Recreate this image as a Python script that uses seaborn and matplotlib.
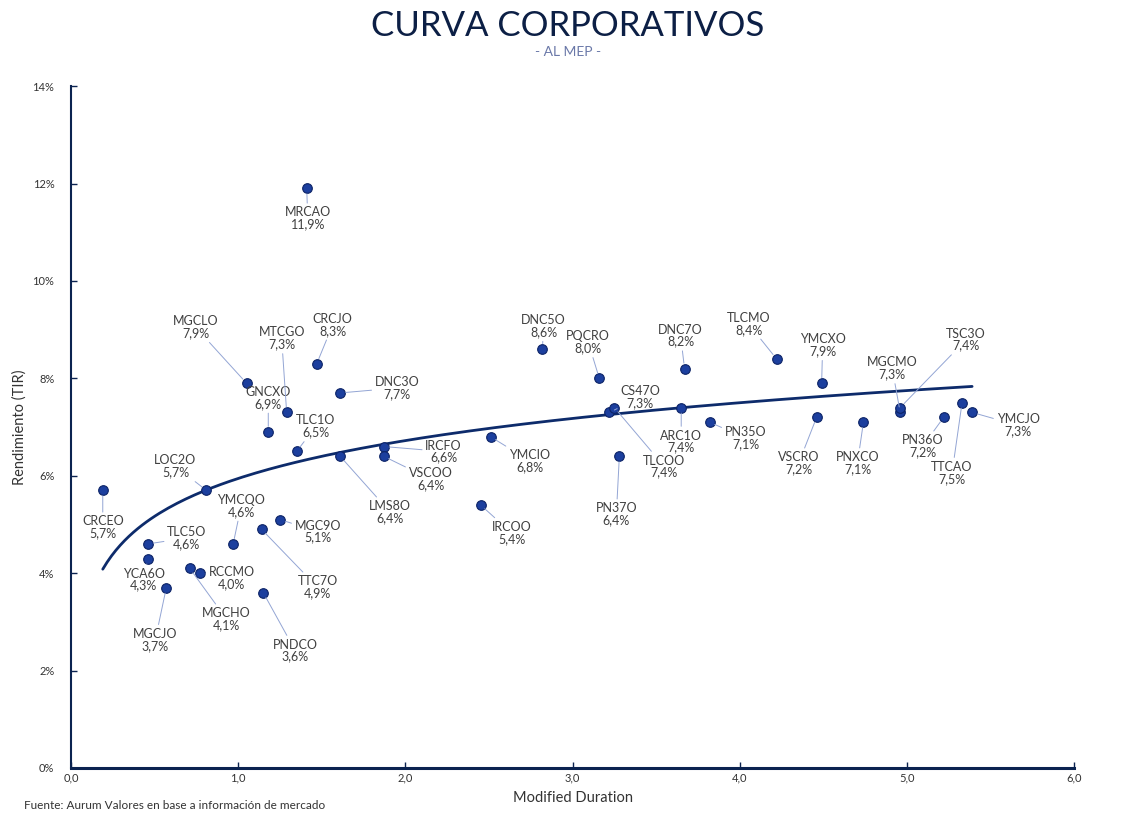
import numpy as np
import pandas as pd
import matplotlib
matplotlib.use("Agg")
import matplotlib.pyplot as plt
import seaborn as sns

# Data
tickers = ["MRCAO", "CRCEO", "LOC2O", "TLC5O", "YCA6O", "MGCJO", "MGCHO", "RCCMO",
           "YMCQO", "TTC7O", "MGC9O", "PNDCO", "MGCLO", "GNCXO", "MTCGO", "CRCJO",
           "TLC1O", "DNC3O", "LMS8O", "IRCFO", "VSCOO", "YMCIO", "IRCOO", "DNC5O",
           "PQCRO", "CS47O", "TLCOO", "PN37O", "ARC1O", "DNC7O", "PN35O", "TLCMO",
           "YMCXO", "VSCRO", "PNXCO", "MGCMO", "TSC3O", "PN36O", "TTCAO", "YMCJO"]
duration = [1.41, 0.19, 0.81, 0.46, 0.46, 0.57, 0.71, 0.77,
            0.97, 1.14, 1.25, 1.15, 1.05, 1.18, 1.29, 1.47,
            1.35, 1.61, 1.61, 1.87, 1.87, 2.51, 2.45, 2.82,
            3.16, 3.22, 3.25, 3.28, 3.65, 3.67, 3.82, 4.22,
            4.49, 4.46, 4.74, 4.96, 4.96, 5.22, 5.33, 5.39]
tir = [11.9, 5.7, 5.7, 4.6, 4.3, 3.7, 4.1, 4.0,
       4.6, 4.9, 5.1, 3.6, 7.9, 6.9, 7.3, 8.3,
       6.5, 7.7, 6.4, 6.6, 6.4, 6.8, 5.4, 8.6,
       8.0, 7.3, 7.4, 6.4, 7.4, 8.2, 7.1, 8.4,
       7.9, 7.2, 7.1, 7.3, 7.4, 7.2, 7.5, 7.3]

# label placement (offset from the point, in pixels)
label_offsets = {
    "MRCAO": (1, -30), "CRCEO": (0, -37), "LOC2O": (-31, 24), "TLC5O": (39, 6),
    "YCA6O": (-4, -21), "MGCJO": (-11, -52), "MGCHO": (37, -51), "RCCMO": (32, -5),
    "YMCQO": (8, 38), "TTC7O": (56, -58), "MGC9O": (38, -12), "PNDCO": (32, -58),
    "MGCLO": (-51, 56), "GNCXO": (0, 34), "MTCGO": (-5, 74), "CRCJO": (16, 39),
    "TLC1O": (19, 25), "DNC3O": (57, 5), "LMS8O": (50, -56), "IRCFO": (60, -5),
    "VSCOO": (47, -23), "YMCIO": (39, -24), "IRCOO": (31, -28), "DNC5O": (1, 23),
    "PQCRO": (-11, 36), "CS47O": (31, 15), "TLCOO": (50, -59), "PN37O": (-3, -58),
    "ARC1O": (0, -34), "DNC7O": (-4, 33), "PN35O": (36, -16), "TLCMO": (-28, 35),
    "YMCXO": (1, 38), "VSCRO": (-18, -46), "PNXCO": (-6, -41), "MGCMO": (-8, 44),
    "TSC3O": (66, 68), "PN36O": (-21, -29), "TTCAO": (-10, -70), "YMCJO": (46, -13),
}

df = pd.DataFrame({"ticker": tickers, "duration": duration, "tir": tir})

# logarithmic trend line
b, a = np.polyfit(np.log(df["duration"]), df["tir"], 1)
xs = np.linspace(df["duration"].min(), df["duration"].max(), 200)
trend = pd.DataFrame({"x": xs, "y": a + b * np.log(xs)})

sns.set_theme(style="white")
plt.rcParams["font.family"] = ["Lato", "DejaVu Sans"]

navy = "#0b2350"
text_grey = "#404040"

fig = plt.figure(figsize=(11.36, 8.24), dpi=100)
ax = fig.add_axes([0.0625, 0.068, 0.883, 0.8275])

sns.lineplot(data=trend, x="x", y="y", ax=ax, color="#0d2b6b", lw=2, zorder=2)
sns.scatterplot(data=df, x="duration", y="tir", ax=ax, s=48, color="#1c3f9e",
                edgecolor="#0c2366", linewidth=0.8, zorder=4)

for t, x, y in zip(tickers, duration, tir):
    dx, dy = label_offsets[t]
    ax.annotate(f"{t}\n{y:.1f}%".replace(".", ","), xy=(x, y), xytext=(dx, dy),
                textcoords="offset pixels", ha="center", va="center",
                fontsize=9, color=text_grey, linespacing=1.0, zorder=5,
                arrowprops=dict(arrowstyle="-", color="#93a5d4", lw=0.7,
                                shrinkA=0, shrinkB=4))

ax.set_xlim(0, 6)
ax.set_ylim(0, 14)
ax.set_xticks(np.arange(0, 7, 1))
ax.set_xticklabels([f"{v:.1f}".replace(".", ",") for v in range(7)])
ax.set_yticks(np.arange(0, 15, 2))
ax.set_yticklabels([f"{v}%" for v in range(0, 15, 2)])
ax.tick_params(axis="both", direction="in", length=4, width=1, colors=navy,
               labelcolor="#333333", labelsize=8, bottom=True, left=True)
ax.tick_params(axis="y", pad=12)

for s in ["top", "right"]:
    ax.spines[s].set_visible(False)
ax.spines["left"].set_color(navy)
ax.spines["left"].set_linewidth(1.5)
ax.spines["bottom"].set_color(navy)
ax.spines["bottom"].set_linewidth(2.2)

ax.set_xlabel("Modified Duration", fontsize=10.5, color="#333333", labelpad=5)
ax.set_ylabel("Rendimiento (TIR)", fontsize=10.5, color="#333333")
ax.yaxis.set_label_coords(-0.044, 0.5)

fig.text(0.5, 0.969, "CURVA CORPORATIVOS", ha="center", va="center",
         fontsize=25, color="#0c1f45")
fig.text(0.5, 0.937, "- AL MEP -", ha="center", va="center",
         fontsize=10, color="#6a78a8")
fig.text(0.021, 0.022, "Fuente: Aurum Valores en base a información de mercado",
         ha="left", va="center", fontsize=8.5, color="#333333")

fig.savefig("out.png", dpi=100)
